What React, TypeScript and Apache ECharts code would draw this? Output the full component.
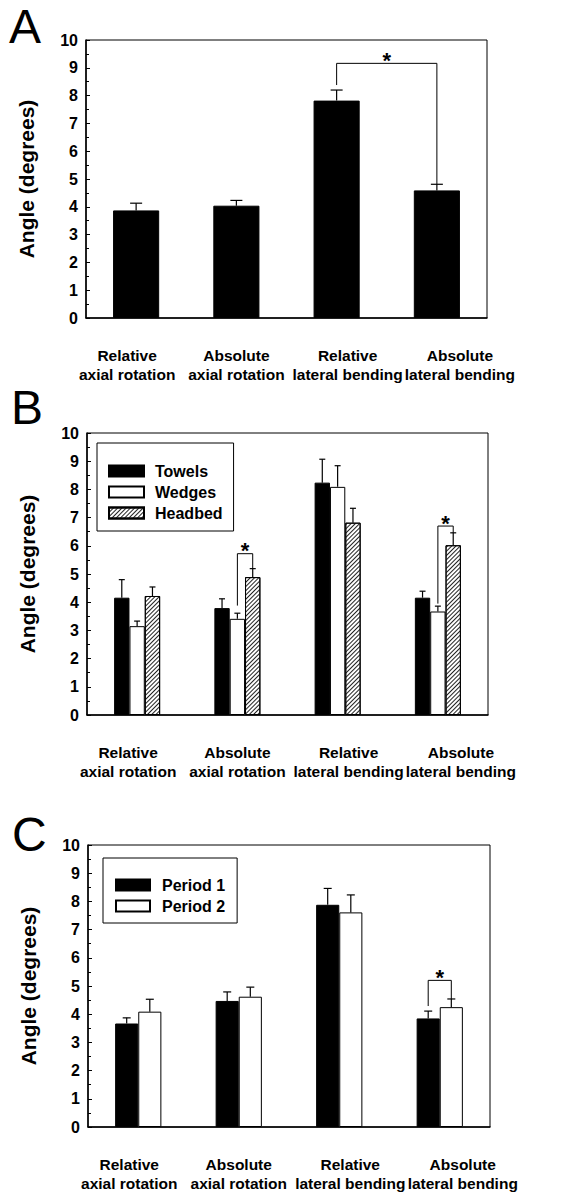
import React, { useEffect, useRef } from "react";
import * as echarts from "echarts";

// ---------- data ----------
const categories = [
  "Relative\naxial rotation",
  "Absolute\naxial rotation",
  "Relative\nlateral bending",
  "Absolute\nlateral bending",
];

// Panel A
const aMeans = [3.87, 4.04, 7.82, 4.59];
const aErrors = [0.26, 0.19, 0.38, 0.22];

// Panel B
const towels = [4.16, 3.79, 8.24, 4.16];
const towelsErr = [0.64, 0.33, 0.83, 0.23];
const wedges = [3.15, 3.41, 8.09, 3.67];
const wedgesErr = [0.18, 0.2, 0.75, 0.19];
const headbed = [4.22, 4.89, 6.82, 6.02];
const headbedErr = [0.32, 0.3, 0.51, 0.44];

// Panel C
const period1 = [3.67, 4.47, 7.88, 3.85];
const period1Err = [0.2, 0.32, 0.58, 0.26];
const period2 = [4.09, 4.62, 7.61, 4.25];
const period2Err = [0.44, 0.34, 0.62, 0.29];

// significance brackets: [cat1, slot1, legEnd1, cat2, slot2, legEnd2, top]
const aBrackets = [[2, 0, 8.38, 3, 0, 4.81, 9.16]];
const bBrackets = [
  [1, 1, 3.88, 1, 2, 5.19, 5.72],
  [3, 1, 3.95, 3, 2, 6.46, 6.7],
];
const cBrackets = [[3, 0, 4.29, 3, 1, 4.54, 5.2]];

const yMin = 0;
const yMax = 10;
const yInterval = 1;

// ---------- styles ----------
const FONT = "'Liberation Sans', Arial, Helvetica, sans-serif";
const labelShift = [-9, 0, 11, 23];

function xAxisFor(gridIndex: number) {
  const rich: Record<string, any> = {};
  labelShift.forEach((s, i) => {
    rich["c" + i] = {
      fontSize: 15.5,
      fontWeight: "bold",
      color: "#000",
      lineHeight: 19,
      fontFamily: FONT,
      padding: s >= 0 ? [0, 0, 0, 2 * s] : [0, -2 * s, 0, 0],
    };
  });
  return {
    type: "category",
    gridIndex,
    data: categories,
    axisLine: { show: true, lineStyle: { color: "#000", width: 1.5 } },
    axisTick: { show: false },
    axisLabel: {
      interval: 0,
      margin: 28,
      color: "#000",
      fontSize: 15.5,
      fontWeight: "bold",
      lineHeight: 19,
      formatter: (v: string, i: number) =>
        v
          .split("\n")
          .map((l) => `{c${i}|${l}}`)
          .join("\n"),
      rich,
    },
  };
}

function yAxisFor(gridIndex: number) {
  return {
    type: "value",
    gridIndex,
    min: yMin,
    max: yMax,
    interval: yInterval,
    name: "Angle (degrees)",
    nameLocation: "middle",
    nameGap: 49,
    nameTextStyle: { fontSize: 21, fontWeight: "bold", color: "#000", fontFamily: FONT },
    axisLine: { show: true, lineStyle: { color: "#000", width: 1.5 } },
    axisTick: { show: true, inside: true, length: 4, lineStyle: { color: "#000" } },
    minorTick: { show: true, splitNumber: 2, length: 3, lineStyle: { color: "#000" } },
    splitLine: { show: false },
    axisLabel: { fontSize: 16, fontWeight: "bold", color: "#000", margin: 8 },
  };
}

function errorSeries(
  gridIndex: number,
  means: number[],
  errs: number[],
  slot: number,
  nSlots: number,
  barFrac: number,
  cap: number
) {
  return {
    type: "custom",
    name: "err" + gridIndex + "_" + slot,
    xAxisIndex: gridIndex,
    yAxisIndex: gridIndex,
    silent: true,
    z: 3,
    data: means.map((m, i) => [i, m, m + errs[i]]),
    renderItem: (_p: any, api: any) => {
      const band = api.size([1, 0], [0, 0])[0];
      const w = band * barFrac;
      const off = (slot - (nSlots - 1) / 2) * w;
      const base = api.coord([api.value(0), api.value(1)]);
      const top = api.coord([api.value(0), api.value(2)]);
      const x = base[0] + off;
      const st = { stroke: "#000", lineWidth: 1.2 };
      return {
        type: "group",
        children: [
          { type: "line", shape: { x1: x, y1: base[1], x2: x, y2: top[1] }, style: st },
          { type: "line", shape: { x1: x - cap / 2, y1: top[1], x2: x + cap / 2, y2: top[1] }, style: st },
        ],
      };
    },
  };
}

function bracketSeries(gridIndex: number, brackets: number[][], nSlots: number, barFrac: number) {
  return {
    type: "custom",
    name: "sig" + gridIndex,
    xAxisIndex: gridIndex,
    yAxisIndex: gridIndex,
    silent: true,
    z: 4,
    data: brackets,
    renderItem: (_p: any, api: any) => {
      const band = api.size([1, 0], [0, 0])[0];
      const w = band * barFrac;
      const off = (s: number) => (s - (nSlots - 1) / 2) * w;
      const x1 = api.coord([api.value(0), 0])[0] + off(api.value(1));
      const y1 = api.coord([api.value(0), api.value(2)])[1];
      const x2 = api.coord([api.value(3), 0])[0] + off(api.value(4));
      const y2 = api.coord([api.value(3), api.value(5)])[1];
      const yt = api.coord([api.value(0), api.value(6)])[1];
      return {
        type: "group",
        children: [
          {
            type: "polyline",
            shape: { points: [[x1, y1], [x1, yt], [x2, yt], [x2, y2]] },
            style: { stroke: "#000", fill: null, lineWidth: 1 },
          },
          {
            type: "text",
            style: {
              text: "*",
              x: (x1 + x2) / 2,
              y: yt - 3,
              align: "center",
              verticalAlign: "middle",
              fontSize: 22,
              fontWeight: "bold",
              fill: "#000",
              fontFamily: FONT,
            },
          },
        ],
      };
    },
  };
}

const blackStyle = { color: "#000", borderColor: "#000", borderWidth: 1 };
const whiteStyle = { color: "#fff", borderColor: "#000", borderWidth: 1 };
const hatchStyle = {
  color: "#fff",
  borderColor: "#000",
  borderWidth: 1,
  decal: {
    symbol: "rect",
    symbolSize: 1,
    dashArrayX: [1, 0],
    dashArrayY: [1, 2],
    rotation: -Math.PI / 4,
    color: "#222",
    backgroundColor: "#fff",
  },
};

function barSeries(name: string, gridIndex: number, data: number[], width: string, itemStyle: any) {
  return {
    type: "bar",
    name,
    xAxisIndex: gridIndex,
    yAxisIndex: gridIndex,
    data,
    barWidth: width,
    barGap: "0%",
    itemStyle,
    z: 2,
  };
}

function panelLetter(text: string, x: number, y: number) {
  return {
    type: "text",
    left: x,
    top: y,
    style: { text, fontSize: 48, fontFamily: FONT, fill: "#000" },
  };
}

const legendText = {
  fontSize: 16,
  fontWeight: "bold",
  color: "#000",
  fontFamily: FONT,
  lineHeight: 16,
};

export default function App() {
  const ref = useRef<HTMLDivElement>(null);
  useEffect(() => {
    if (!ref.current) return;
    const chart = echarts.init(ref.current, undefined, { renderer: "svg" });
    const option: any = {
      animation: false,
      backgroundColor: "#fff",
      textStyle: { fontFamily: FONT },
      grid: [
        { left: 86, top: 40, width: 401, height: 278, show: true, borderColor: "#000", borderWidth: 1 },
        { left: 87, top: 433, width: 401, height: 282, show: true, borderColor: "#000", borderWidth: 1 },
        { left: 88, top: 845, width: 402, height: 282, show: true, borderColor: "#000", borderWidth: 1 },
      ],
      xAxis: [xAxisFor(0), xAxisFor(1), xAxisFor(2)],
      yAxis: [yAxisFor(0), yAxisFor(1), yAxisFor(2)],
      legend: [
        {
          data: ["Towels", "Wedges", "Headbed"],
          orient: "vertical",
          left: 97,
          top: 443,
          padding: [20, 11, 10, 11],
          itemWidth: 35,
          itemHeight: 11,
          itemGap: 5,
          icon: "rect",
          borderColor: "#000",
          borderWidth: 1,
          selectedMode: false,
          textStyle: { ...legendText, padding: [0, 0, 0, 6] },
        },
        {
          data: ["Period 1", "Period 2"],
          orient: "vertical",
          left: 103,
          top: 858,
          padding: [19, 12, 9, 12],
          itemWidth: 34,
          itemHeight: 11,
          itemGap: 5,
          icon: "rect",
          borderColor: "#000",
          borderWidth: 1,
          selectedMode: false,
          textStyle: { ...legendText, padding: [0, 0, 0, 7] },
        },
      ],
      graphic: [panelLetter("A", 9, 2), panelLetter("B", 11, 383), panelLetter("C", 12, 810)],
      series: [
        barSeries("Mean", 0, aMeans, "46%", blackStyle),
        errorSeries(0, aMeans, aErrors, 0, 1, 0.46, 12),
        bracketSeries(0, aBrackets, 1, 0.46),

        barSeries("Towels", 1, towels, "15.3%", blackStyle),
        barSeries("Wedges", 1, wedges, "15.3%", whiteStyle),
        barSeries("Headbed", 1, headbed, "15.3%", hatchStyle),
        errorSeries(1, towels, towelsErr, 0, 3, 0.153, 6),
        errorSeries(1, wedges, wedgesErr, 1, 3, 0.153, 6),
        errorSeries(1, headbed, headbedErr, 2, 3, 0.153, 6),
        bracketSeries(1, bBrackets, 3, 0.153),

        barSeries("Period 1", 2, period1, "23%", blackStyle),
        barSeries("Period 2", 2, period2, "23%", whiteStyle),
        errorSeries(2, period1, period1Err, 0, 2, 0.23, 8),
        errorSeries(2, period2, period2Err, 1, 2, 0.23, 8),
        bracketSeries(2, cBrackets, 2, 0.23),
      ],
    };
    chart.setOption(option);
    return () => chart.dispose();
  }, []);
  return (
    <div
      ref={ref}
      style={{ position: "absolute", left: 0, top: 0, width: 584, height: 1193, background: "#fff" }}
    />
  );
}
